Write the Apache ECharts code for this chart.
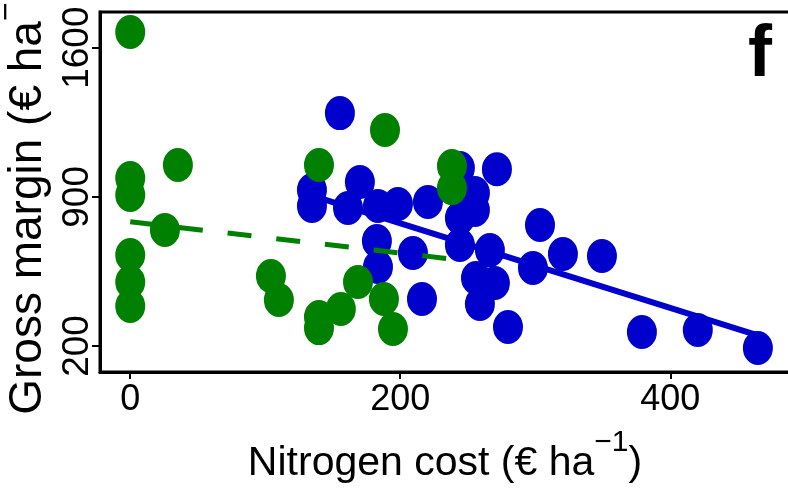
<!DOCTYPE html>
<html>
<head>
<meta charset="utf-8">
<script src="https://cdn.jsdelivr.net/npm/echarts@6/dist/echarts.min.js"></script>
<style>
  html, body { margin: 0; padding: 0; background: #fff; }
  #chart { width: 788px; height: 492px; }
</style>
</head>
<body>
<div id="chart"></div>
<script>
// ---- data ----
const greenX = [0, 188.7, 35.3, 139.8, 0, 0, 25.7, 0, 0, 0, 104.2, 110.1, 238.3, 238.3, 168.7, 156.0, 139.8, 139.8, 187.9, 194.6];
const greenY = [1674, 1214, 1049, 1049, 988, 909, 744, 627, 500, 388, 528, 416, 1045, 941, 500, 374, 336, 284, 421, 280];

const blueX = [155.3, 134.6, 134.6, 170.1, 161.3, 183.5, 198.3, 220.5, 182.7, 183.5, 209.4, 216.1, 244.2, 271.6, 255.3,
               255.3, 244.2, 244.2, 266.4, 303.5, 320.5, 298.3, 256.1, 270.1, 259.0, 279.8, 349.4, 379.0, 420.4, 464.9];
const blueY = [1293, 932, 857, 970, 848, 857, 866, 876, 693, 571, 636, 421, 1035, 1030, 918,
               838, 801, 674, 650, 768, 632, 566, 519, 496, 397, 289, 622, 266, 275, 191];

const greenFitX = [0, 238.3];
const greenFitY = [783, 608];
const blueFitX = [134.6, 464.9];
const blueFitY = [906, 250];

const xTicks = [0, 200, 400];
const yTicks = [200, 900, 1600];

const xName = ['Nitrogen cost (€ ha', '−1', ')'];
const yName = ['Gross margin (€ ha', '−1', ')'];
const panelLabel = 'f';

// ---- build ----
const FONT = 'Liberation Sans, Arial, sans-serif';
const GREEN = '#008000';
const BLUE = '#0000CD';
const ELLIPSE = 'path://M0,17A15,17 0 1,1 30,17A15,17 0 1,1 0,17Z';

const zip = (a, b) => a.map((v, i) => [v, b[i]]);
const richName = (parts) => '{t|' + parts[0] + '}{s|' + parts[1] + '}{t|' + parts[2] + '}';

const chart = echarts.init(document.getElementById('chart'), null, { renderer: 'canvas' });
chart.setOption({
  animation: false,
  backgroundColor: '#fff',
  grid: {
    left: 100, right: -2, top: 12, bottom: 120,
    containLabel: false, outerBoundsMode: 'none',
    show: true, borderColor: '#000', borderWidth: 3, backgroundColor: 'transparent'
  },
  xAxis: {
    type: 'value', min: -22.4, max: 488.7,
    splitLine: { show: false },
    axisLine: { show: true, onZero: false, lineStyle: { color: '#000', width: 3 } },
    axisTick: { show: true, customValues: xTicks, length: 7, lineStyle: { color: '#000', width: 2 } },
    axisLabel: { customValues: xTicks, formatter: (v) => String(v), margin: 10, fontSize: 36, fontFamily: FONT, color: '#000' },
    name: richName(xName),
    nameLocation: 'middle',
    nameGap: 56,
    nameTextStyle: {
      rich: {
        t: { fontSize: 41, fontFamily: FONT, color: '#000', lineHeight: 56, verticalAlign: 'bottom' },
        s: { fontSize: 30, fontFamily: FONT, color: '#000', lineHeight: 56, verticalAlign: 'top' }
      }
    }
  },
  yAxis: {
    type: 'value', min: 78, max: 1767.5,
    splitLine: { show: false },
    axisLine: { show: true, onZero: false, lineStyle: { color: '#000', width: 3 } },
    axisTick: { show: true, customValues: yTicks, length: 8, lineStyle: { color: '#000', width: 2 } },
    axisLabel: { customValues: yTicks, formatter: (v) => String(v), rotate: 90, margin: 4, fontSize: 37, fontFamily: FONT, color: '#000' },
    name: richName(yName),
    nameLocation: 'middle',
    nameGap: 44,
    nameTextStyle: {
      rich: {
        t: { fontSize: 46, fontFamily: FONT, color: '#000', lineHeight: 60, verticalAlign: 'bottom' },
        s: { fontSize: 32, fontFamily: FONT, color: '#000', lineHeight: 60, verticalAlign: 'top' }
      }
    }
  },
  graphic: [{
    type: 'text', right: 16, top: 20, z: 100,
    style: { text: panelLabel, font: 'bold 72px ' + FONT, fill: '#000' }
  }],
  series: [
    {
      type: 'scatter', data: zip(blueX, blueY),
      symbol: ELLIPSE, symbolSize: [30, 34],
      itemStyle: { color: BLUE, opacity: 1 }, z: 2
    },
    {
      type: 'line', data: zip(blueFitX, blueFitY),
      showSymbol: false, symbol: 'none',
      lineStyle: { color: BLUE, width: 6, type: 'solid', cap: 'butt' }, z: 3
    },
    {
      type: 'scatter', data: zip(greenX, greenY),
      symbol: ELLIPSE, symbolSize: [30, 34],
      itemStyle: { color: GREEN, opacity: 1 }, z: 4
    },
    {
      type: 'line', data: zip(greenFitX, greenFitY),
      showSymbol: false, symbol: 'none',
      lineStyle: { color: GREEN, width: 5, type: [24, 25], cap: 'butt' }, z: 5
    }
  ]
});
</script>
</body>
</html>
